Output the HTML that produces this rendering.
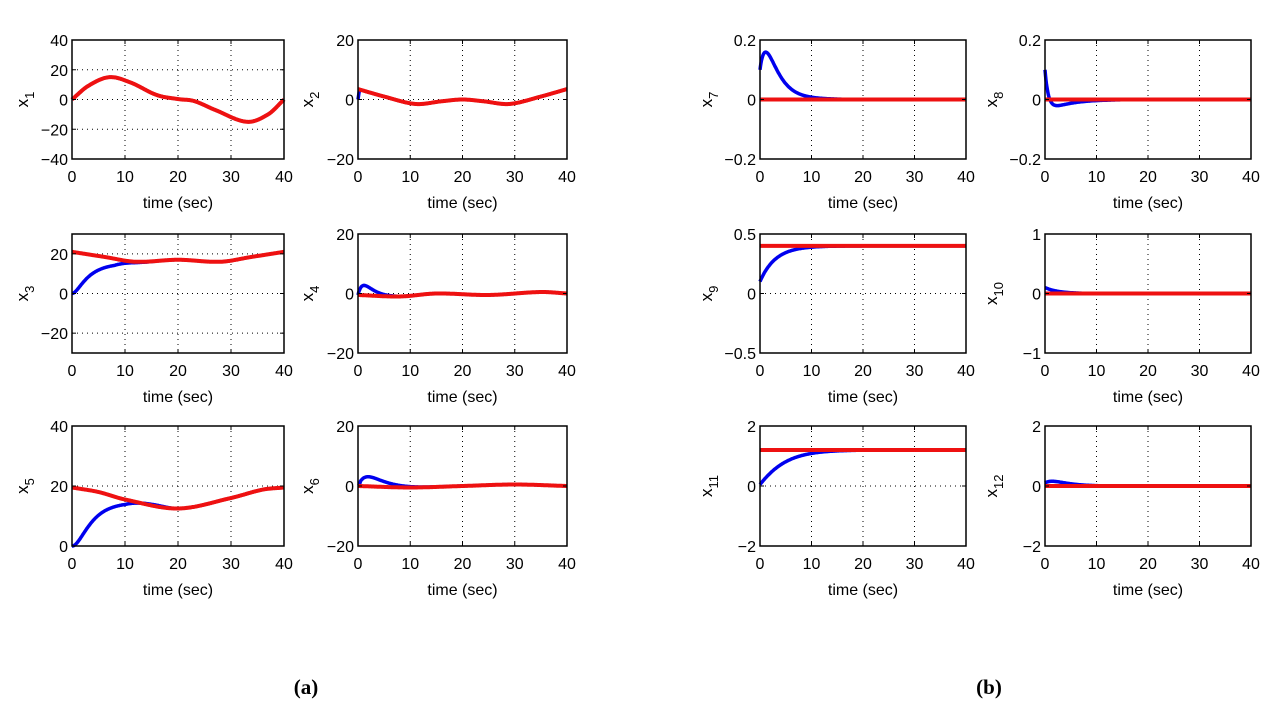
<!DOCTYPE html>
<html><head><meta charset="utf-8"><style>
body{margin:0;background:#fff;width:1280px;height:711px;overflow:hidden}
svg{position:absolute;left:0;top:0}
</style></head><body>
<svg id="s" width="1280" height="711" xmlns="http://www.w3.org/2000/svg" font-family="Liberation Sans, sans-serif"></svg>
<script>
const S=document.getElementById('s');let h='';
function cr(pts){return t=>{let i=0;while(i<pts.length-2&&t>pts[i+1][0])i++;
 const p0=pts[Math.max(i-1,0)],p1=pts[i],p2=pts[i+1],p3=pts[Math.min(i+2,pts.length-1)];
 const u=(t-p1[0])/(p2[0]-p1[0]);const m1=(p2[1]-p0[1])/((p2[0]-p0[0])||1)*(p2[0]-p1[0]),m2=(p3[1]-p1[1])/((p3[0]-p1[0])||1)*(p2[0]-p1[0]);
 const u2=u*u,u3=u2*u;return (2*u3-3*u2+1)*p1[1]+(u3-2*u2+u)*m1+(-2*u3+3*u2)*p2[1]+(u3-u2)*m2;}}
function plot(x0,x1,y0,y1,ymin,ymax,yt,lab,sub,lx,blue,red){
 const X=t=>x0+(x1-x0)*t/40,Y=v=>y1-(y1-y0)*(v-ymin)/(ymax-ymin);
 for(let t=10;t<40;t+=10)h+=`<line x1="${X(t)}" x2="${X(t)}" y1="${y0}" y2="${y1}" stroke="#000" stroke-width="1" stroke-dasharray="1,4"/>`;
 yt.forEach(v=>{if(v>ymin&&v<ymax)h+=`<line x1="${x0}" x2="${x1}" y1="${Y(v)}" y2="${Y(v)}" stroke="#000" stroke-width="1" stroke-dasharray="1,4"/>`;});
 const path=(f,c,w)=>{let p='';for(let i=0;i<=400;i++){const t=i/10;let v=f(t);v=Math.max(ymin,Math.min(ymax,v));p+=(i?'L':'M')+X(t).toFixed(1)+','+Y(v).toFixed(1);}h+=`<path d="${p}" fill="none" stroke="${c}" stroke-width="${w}" stroke-linejoin="round"/>`;};
 path(blue,'#0000ee',3.5);path(red,'#ee1111',4);
 h+=`<rect x="${x0}" y="${y0}" width="${x1-x0}" height="${y1-y0}" fill="none" stroke="#000" stroke-width="1.5"/>`;
 for(let t=0;t<=40;t+=10){h+=`<text x="${X(t)}" y="${y1+23}" font-size="16" text-anchor="middle">${t}</text>`;
  h+=`<line x1="${X(t)}" x2="${X(t)}" y1="${y1}" y2="${y1-4}" stroke="#000"/><line x1="${X(t)}" x2="${X(t)}" y1="${y0}" y2="${y0+4}" stroke="#000"/>`;}
 yt.forEach(v=>{h+=`<text x="${x0-4}" y="${Y(v)+6}" font-size="16" text-anchor="end">${String(v).replace('-','\u2212')}</text>`;
  h+=`<line x1="${x0}" x2="${x0+4}" y1="${Y(v)}" y2="${Y(v)}" stroke="#000"/><line x1="${x1}" x2="${x1-4}" y1="${Y(v)}" y2="${Y(v)}" stroke="#000"/>`;});
 h+=`<text x="${(x0+x1)/2}" y="${y1+49}" font-size="16" text-anchor="middle">time (sec)</text>`;
 const cy=(y0+y1)/2;h+=`<text transform="translate(${lx},${cy}) rotate(-90)" font-size="17" text-anchor="middle">x<tspan font-size="13" dy="6">${sub}</tspan></text>`;
}
const R=[[40,159],[234,353],[426,546]];
const r1=cr([[0,0],[3,9],[7,15],[11,11.5],[16,3],[20,0.3],[23,-1],[27,-7],[33,-15],[37,-10],[40,0]]);
plot(72,284,R[0][0],R[0][1],-40,40,[-40,-20,0,20,40],'x','1',28,r1,r1);
const r2=cr([[0,3.5],[5,1],[11,-1.5],[16,-0.6],[20,0],[24,-0.6],[29,-1.5],[35,1],[40,3.5]]);
plot(358,567,R[0][0],R[0][1],-20,20,[-20,0,20],'x','2',313,t=>t<0.3?r2(t)*t/0.3:r2(t),r2);
const r3=cr([[0,21],[6,18.5],[12,16],[20,17],[28,16],[34,18.5],[40,21]]);
plot(72,284,R[1][0],R[1][1],-30,30,[-20,0,20],'x','3',28,t=>{const b=15.5*(1-Math.exp(-t/3.2))*(1-Math.exp(-t/1.5));const k=Math.min(1,Math.max(0,(t-8)/8));return b*(1-k)+r3(t)*k;},r3);
const r4=cr([[0,-0.5],[8,-1],[15,0],[25,-0.5],[35,0.5],[40,0]]);
plot(358,567,R[1][0],R[1][1],-20,20,[-20,0,20],'x','4',313,t=>r4(t)+5.5*t/1.2*Math.exp(1-t/1.2)*0.6,r4);
const r5=cr([[0,19.5],[5,18],[10,15.5],[20,12.5],[30,16],[36,18.8],[40,19.5]]);
plot(72,284,R[2][0],R[2][1],0,40,[0,20,40],'x','5',28,t=>{const b=14.5*Math.pow(1-Math.exp(-t/2.6),2.2);const k=Math.min(1,Math.max(0,(t-10)/9));return b*(1-k)+r5(t)*k;},r5);
const r6=cr([[0,0],[10,-0.5],[20,0],[30,0.5],[40,0]]);
plot(358,567,R[2][0],R[2][1],-20,20,[-20,0,20],'x','6',313,t=>r6(t)+3.2*(t/2)*Math.exp(1-t/2)*(t<0.5?t/0.5:1),r6);
plot(760,966,R[0][0],R[0][1],-0.2,0.2,[-0.2,0,0.2],'x','7',712,t=>0.1*Math.exp(-t/3.5)+0.09*(t/1.5)*Math.exp(1-t/1.5),t=>0);
plot(1045,1251,R[0][0],R[0][1],-0.2,0.2,[-0.2,0,0.2],'x','8',997,t=>0.1*Math.exp(-t/0.7)-0.045*(1-Math.exp(-t/0.7))*Math.exp(-t/4),t=>0);
plot(760,966,R[1][0],R[1][1],-0.5,0.5,[-0.5,0,0.5],'x','9',712,t=>0.4-0.3*Math.exp(-t/3),t=>0.4);
plot(1045,1251,R[1][0],R[1][1],-1,1,[-1,0,1],'x','10',997,t=>0.1*Math.exp(-t/2.5),t=>0);
plot(760,966,R[2][0],R[2][1],-2,2,[-2,0,2],'x','11',712,t=>1.2-1.15*Math.exp(-t/3.2)*(1+t/8),t=>1.2);
plot(1045,1251,R[2][0],R[2][1],-2,2,[-2,0,2],'x','12',997,t=>0.1*Math.exp(-t/3)+0.1*(t/2)*Math.exp(1-t/2),t=>0);
h+=`<text x="306" y="694" font-family="Liberation Serif, serif" font-weight="bold" font-size="21" text-anchor="middle">(a)</text>`;
h+=`<text x="989" y="694" font-family="Liberation Serif, serif" font-weight="bold" font-size="21" text-anchor="middle">(b)</text>`;
S.innerHTML=h;
</script>
</body></html>
